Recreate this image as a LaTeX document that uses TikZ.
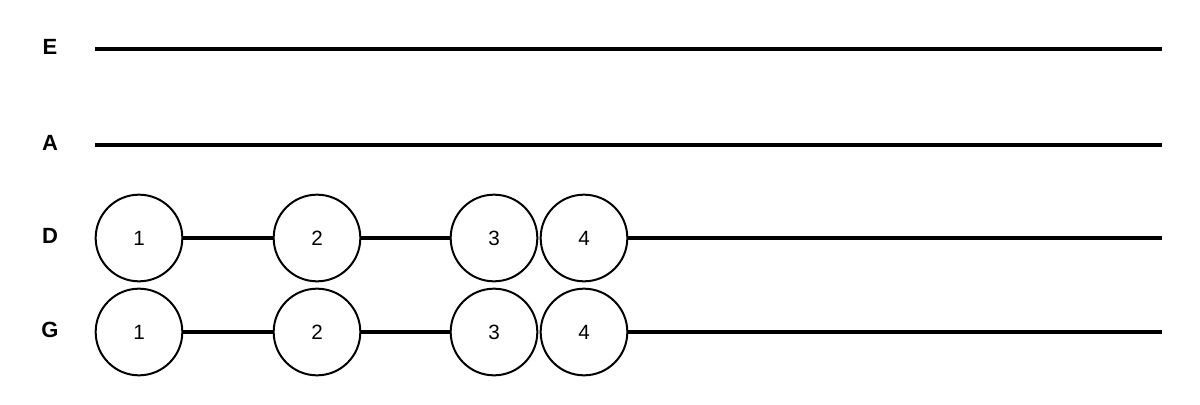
\documentclass[tikz,border=0pt]{standalone}
\usepackage{fontspec}
\setmainfont{Liberation Sans}
\tikzset{
  fret/.style={circle, draw=black, line width=1.5pt, minimum size=65pt, inner sep=0pt, font=\fontsize{15.5}{18}\selectfont},
  strname/.style={font=\bfseries\fontsize{16.5}{19}\selectfont},
  wire/.style={line width=3pt}
}
\begin{document}
\begin{tikzpicture}[x=0.75pt, y=-0.75pt]
\useasboundingbox (0,0) rectangle (1200,404);
% string names and ends
\foreach \s/\y in {E/49, A/145, D/238, G/332} {
  \node [strname] (\s-name) at (50,\y-2) {\s};
  \coordinate (\s-start) at (95,\y);
  \coordinate (\s-end) at (1162,\y);
}
\draw [wire] (E-start) -- (E-end);
\draw [wire] (A-start) -- (A-end);
% fretted strings
\foreach \s in {D, G} {
  \node [fret] (\s-1) at (139,0 |- \s-start) {1};
  \node [fret] (\s-2) at (317,0 |- \s-start) {2};
  \node [fret] (\s-3) at (494,0 |- \s-start) {3};
  \node [fret] (\s-4) at (584,0 |- \s-start) {4};
  \draw [wire] (\s-1) -- (\s-2);
  \draw [wire] (\s-2) -- (\s-3);
  \draw [wire] (\s-4) -- (\s-end);
}
\end{tikzpicture}
\end{document}
